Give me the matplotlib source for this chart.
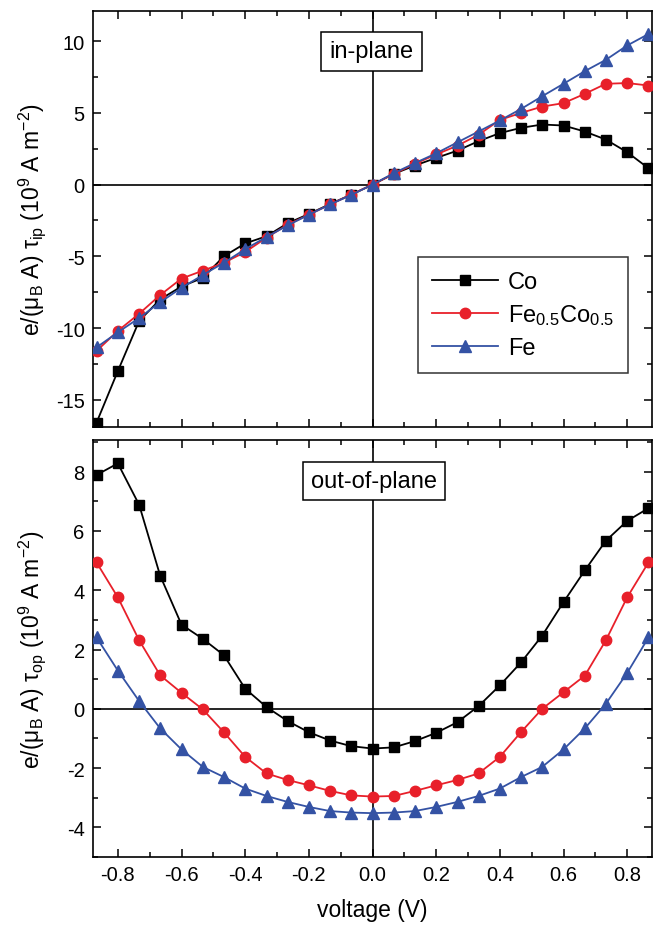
import numpy as np
import matplotlib
matplotlib.use("Agg")
import matplotlib.pyplot as plt
from matplotlib.ticker import MultipleLocator

plt.rcParams['font.family'] = ['Liberation Sans', 'DejaVu Sans']
plt.rcParams['mathtext.fontset'] = 'custom'
plt.rcParams['mathtext.rm'] = 'Liberation Sans'
plt.rcParams['mathtext.it'] = 'Liberation Sans:italic'
plt.rcParams['mathtext.bf'] = 'Liberation Sans:bold'
plt.rcParams['axes.unicode_minus'] = False

voltage = [-0.867, -0.800, -0.733, -0.667, -0.600, -0.533, -0.467, -0.400, -0.333,
           -0.267, -0.200, -0.133, -0.067, 0.0, 0.067, 0.133, 0.200, 0.267, 0.333,
           0.400, 0.467, 0.533, 0.600, 0.667, 0.733, 0.800, 0.867]

# in-plane torque
ip_Co = [-16.6, -13.0, -9.5, -8.0, -7.1, -6.5, -5.0, -4.1, -3.6, -2.7, -2.05, -1.35, -0.7, 0.0,
         0.75, 1.33, 1.86, 2.37, 3.03, 3.59, 3.96, 4.19, 4.12, 3.70, 3.14, 2.26, 1.14]
ip_FeCo = [-11.6, -10.2, -9.0, -7.7, -6.55, -6.0, -5.45, -4.7, -3.7, -2.8, -2.1, -1.38, -0.7, 0.0,
           0.75, 1.45, 2.1, 2.72, 3.47, 4.51, 5.0, 5.44, 5.68, 6.33, 7.03, 7.08, 6.91]
ip_Fe = [-11.35, -10.3, -9.3, -8.2, -7.2, -6.3, -5.45, -4.5, -3.65, -2.85, -2.1, -1.38, -0.72, 0.0,
         0.8, 1.5, 2.18, 2.95, 3.7, 4.47, 5.28, 6.16, 7.03, 7.91, 8.7, 9.7, 10.5]

# out-of-plane torque
op_Co = [7.89, 8.28, 6.88, 4.49, 2.84, 2.36, 1.81, 0.68, 0.06, -0.41, -0.79, -1.07, -1.26, -1.34,
         -1.30, -1.09, -0.81, -0.45, 0.09, 0.79, 1.57, 2.47, 3.60, 4.67, 5.67, 6.34, 6.77]
op_FeCo = [4.94, 3.76, 2.31, 1.13, 0.54, -0.02, -0.79, -1.62, -2.18, -2.40, -2.58, -2.77, -2.92, -2.96,
           -2.94, -2.77, -2.58, -2.40, -2.18, -1.62, -0.78, 0.0, 0.56, 1.12, 2.31, 3.76, 4.94]
op_Fe = [2.41, 1.29, 0.26, -0.66, -1.37, -1.96, -2.30, -2.69, -2.94, -3.14, -3.31, -3.45, -3.50, -3.52,
         -3.50, -3.45, -3.31, -3.14, -2.94, -2.69, -2.30, -1.96, -1.37, -0.66, 0.17, 1.21, 2.41]

labels = ['Co', 'Fe$_{0.5}$Co$_{0.5}$', 'Fe']
colors = ['black', '#E8202A', '#3452A4']
markers = ['s', 'o', '^']
msizes = [6.5, 7.5, 8.5]

fig = plt.figure(figsize=(6.56, 9.28), dpi=100)
ax1 = fig.add_axes([0.1418, 0.5388, 0.8521, 0.4482])
ax2 = fig.add_axes([0.1418, 0.0754, 0.8521, 0.4494])

for ax, series in ((ax1, (ip_Co, ip_FeCo, ip_Fe)), (ax2, (op_Co, op_FeCo, op_Fe))):
    ax.axhline(0, color='black', lw=1.2, zorder=1)
    ax.axvline(0, color='black', lw=1.2, zorder=1)
    for ys, lab, c, m, ms in zip(series, labels, colors, markers, msizes):
        ax.plot(voltage, ys, color=c, marker=m, markersize=ms, lw=1.3, label=lab, zorder=3)
    ax.set_xlim(-0.878, 0.878)
    ax.xaxis.set_major_locator(MultipleLocator(0.2))
    ax.xaxis.set_minor_locator(MultipleLocator(0.1))
    ax.tick_params(which='both', direction='in', top=True, right=True, labelsize=14.5)
    ax.tick_params(which='major', length=6, width=1.1, pad=6)
    ax.tick_params(which='minor', length=3.5, width=1.1)
    for s in ax.spines.values():
        s.set_linewidth(1.2)

ax1.set_ylim(-16.9, 12.1)
ax1.yaxis.set_major_locator(MultipleLocator(5))
ax1.yaxis.set_minor_locator(MultipleLocator(2.5))
ax1.tick_params(labelbottom=False)
ax2.set_ylim(-5.0, 9.07)
ax2.yaxis.set_major_locator(MultipleLocator(2))
ax2.yaxis.set_minor_locator(MultipleLocator(1))

def fmt(v, pos):
    s = f"{v:.1f}" if abs(v) > 1e-9 else "0.0"
    return s
ax2.xaxis.set_major_formatter(matplotlib.ticker.FuncFormatter(fmt))

ax1.set_ylabel('e/(μ$_\\mathrm{B}$ A) τ$_\\mathrm{ip}$ (10$^9$ A m$^{-2}$)', fontsize=16.5)
ax2.set_ylabel('e/(μ$_\\mathrm{B}$ A) τ$_\\mathrm{op}$ (10$^9$ A m$^{-2}$)', fontsize=16.5)
ax1.yaxis.set_label_coords(-0.08, 0.5)
ax2.yaxis.set_label_coords(-0.08, 0.5)
ax2.set_xlabel('voltage (V)', fontsize=16.5, labelpad=10)

bbox = dict(boxstyle='square,pad=0.35', fc='white', ec='black', lw=1.1)
ax1.text(0.498, 0.903, 'in-plane', transform=ax1.transAxes, ha='center', va='center',
         fontsize=17, bbox=bbox, zorder=5)
ax2.text(0.503, 0.902, 'out-of-plane', transform=ax2.transAxes, ha='center', va='center',
         fontsize=17, bbox=bbox, zorder=5)

leg = ax1.legend(loc='upper right', bbox_to_anchor=(0.957, 0.409), borderaxespad=0,
                 fontsize=17, frameon=True, fancybox=False, edgecolor='black',
                 handlelength=2.8, handletextpad=0.4, labelspacing=0.4, borderpad=0.6)
leg.get_frame().set_linewidth(1.1)

fig.savefig('out.png', dpi=100)
